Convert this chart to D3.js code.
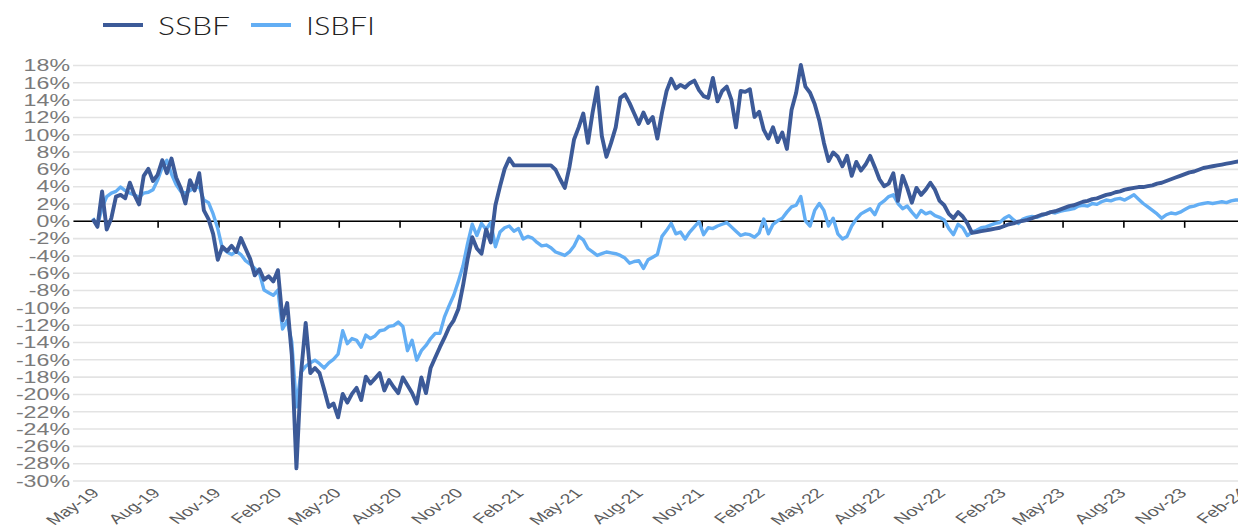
<!DOCTYPE html>
<html>
<head>
<meta charset="utf-8">
<script src="https://cdn.jsdelivr.net/npm/d3@7"></script>
<style>
  body { margin: 0; background: #fff; }
  svg { display: block; font-family: "Liberation Sans", Arial, sans-serif; }
</style>
</head>
<body>
<svg id="viz" width="1238" height="527"></svg>
<script>
// weekly readings, first week starting 2019-04-25
const firstWeek = "2019-04-25";
const seriesNames = ["SSBF", "ISBFI"];
const seriesColors = ["#3c5a98", "#63aef4"];

const ssbf = [
  0.2, -0.7, 3.4, -1.0, 0.3, 2.8, 3.0, 2.6, 4.4, 3.0,
  1.9, 5.2, 6.0, 4.6, 5.3, 7.0, 5.5, 7.2, 5.0, 3.8,
  2.0, 4.7, 3.5, 5.5, 1.2, 0.2, -1.5, -4.5, -3.0, -3.5,
  -2.9, -3.6, -2.0, -3.2, -4.4, -6.3, -5.6, -6.8, -6.4, -7.0,
  -5.7, -11.5, -9.5, -15.5, -28.6, -17.6, -11.8, -17.6, -17.0, -17.6,
  -19.5, -21.5, -21.1, -22.7, -20.0, -21.0, -20.0, -19.3, -20.7, -18.0,
  -18.8, -18.2, -17.6, -19.6, -18.4, -19.2, -19.9, -18.1, -19.0, -19.9,
  -21.1, -18.1, -19.9, -17.0, -15.8, -14.6, -13.5, -12.3, -11.5, -10.2,
  -7.5, -4.4, -1.9, -3.2, -3.8, -1.0, -2.5, 1.8, 4.0, 6.0,
  7.2, 6.4, 6.4, 6.4, 6.4, 6.4, 6.4, 6.4, 6.4, 6.4,
  5.9, 4.8, 3.8, 6.2, 9.4, 10.8, 12.4, 9.0, 12.5, 15.4,
  9.8, 7.4, 9.0, 10.8, 14.2, 14.6, 13.6, 12.4, 11.2, 12.5,
  11.3, 12.0, 9.5, 12.5, 15.0, 16.4, 15.3, 15.7, 15.4, 15.9,
  16.2, 15.1, 14.4, 14.2, 16.5, 13.8, 15.0, 15.5, 14.0, 10.8,
  15.0, 14.9, 15.2, 12.0, 12.6, 10.5, 9.5, 10.8, 9.1, 10.2,
  8.3, 12.8, 14.8, 18.0, 15.5, 14.8, 13.5, 11.6, 9.0, 6.9,
  7.9, 7.4, 6.3, 7.5, 5.2, 6.8, 5.8, 6.5, 7.5, 6.2,
  4.8, 4.0, 4.3, 5.5, 2.3, 5.2, 3.8, 2.1, 3.8, 3.0,
  3.6, 4.4, 3.6, 2.3, 1.8, 0.8, 0.3, 1.0, 0.5, -0.3,
  -1.4, -1.3, -1.2, -1.1, -1.0, -0.9, -0.8, -0.6, -0.4, -0.3,
  -0.1, 0.0, 0.1, 0.3, 0.5, 0.7, 0.8, 1.0, 1.1, 1.3,
  1.5, 1.7, 1.8, 2.0, 2.2, 2.3, 2.5, 2.6, 2.8, 3.0,
  3.1, 3.3, 3.4, 3.6, 3.7, 3.8, 3.9, 3.9, 4.0, 4.1,
  4.3, 4.4, 4.6, 4.8, 5.0, 5.2, 5.4, 5.6, 5.7, 5.9,
  6.1, 6.2, 6.3, 6.4, 6.5, 6.6, 6.7, 6.8, 6.9
];

const isbfi = [
  0.3, -0.5, 1.5, 2.8, 3.2, 3.4, 3.9, 3.5, 3.2, 3.0,
  2.7, 3.2, 3.3, 3.6, 4.7, 6.2, 7.0, 5.4, 4.2, 3.4,
  3.2, 3.5, 3.8, 3.9, 2.4, 2.1, 0.8, -0.9, -3.2, -3.6,
  -3.9, -3.5, -3.9, -4.6, -5.0, -5.5, -6.0, -8.0, -8.3, -8.6,
  -8.0, -12.5, -11.5, -14.0, -21.5, -17.5, -16.8, -16.4, -16.1, -16.5,
  -17.0, -16.4, -16.0, -15.4, -12.7, -14.2, -13.6, -13.8, -14.6, -13.2,
  -13.6, -13.3, -12.7, -12.6, -12.2, -12.1, -11.7, -12.2, -15.0, -13.8,
  -16.1, -15.0, -14.4, -13.6, -13.0, -13.0, -11.1, -9.8, -8.6, -7.0,
  -5.2, -2.6, -0.4, -1.7, -0.3, -1.0, -0.2, -3.0, -1.3, -0.8,
  -0.6, -1.2, -0.9, -2.1, -1.8, -2.0, -2.5, -2.9, -2.8, -3.1,
  -3.6, -3.8, -4.0, -3.6, -2.9, -1.8, -2.2, -3.2, -3.6, -4.0,
  -3.8, -3.6, -3.7, -3.8, -4.0, -4.3, -4.9, -4.7, -4.6, -5.5,
  -4.5, -4.2, -3.9, -1.8, -1.1, -0.3, -1.5, -1.3, -2.1, -1.3,
  -0.7, -0.1, -1.6, -0.8, -0.9, -0.6, -0.4, -0.2, -0.7, -1.2,
  -1.7, -1.5, -1.6, -1.9, -1.4, 0.2, -1.5, -0.4, 0.0, 0.3,
  1.0, 1.6, 1.8, 2.8, 0.0, -0.6, 1.2, 2.0, 1.2, -0.6,
  0.3, -1.5, -2.1, -1.8, -0.6, 0.2, 0.8, 1.1, 1.4, 0.7,
  1.9, 2.3, 2.8, 3.0, 2.0, 1.4, 1.7, 1.0, 0.4, 1.2,
  0.8, 1.0, 0.6, 0.4, 0.1, -0.9, -1.6, -0.4, -0.8, -1.7,
  -1.3, -1.1, -0.8, -0.7, -0.5, -0.3, -0.2, 0.3, 0.6, 0.1,
  -0.3, 0.2, 0.4, 0.5, 0.4, 0.6, 0.8, 1.0, 0.9, 1.1,
  1.2, 1.3, 1.4, 1.7, 1.8, 1.7, 2.0, 1.9, 2.2, 2.4,
  2.3, 2.5, 2.6, 2.4, 2.7, 3.0, 2.5, 2.0, 1.6, 1.2,
  0.8, 0.3, 0.7, 0.9, 0.8, 1.0, 1.3, 1.6, 1.7, 1.9,
  2.0, 2.1, 2.0, 2.1, 2.2, 2.1, 2.3, 2.4, 2.4
];

const xTickDates = [
  "2019-05-01", "2019-08-01", "2019-11-01", "2020-02-01", "2020-05-01",
  "2020-08-01", "2020-11-01", "2021-02-01", "2021-05-01", "2021-08-01",
  "2021-11-01", "2022-02-01", "2022-05-01", "2022-08-01", "2022-11-01",
  "2023-02-01", "2023-05-01", "2023-08-01", "2023-11-01", "2024-02-01"
];
const yTickValues = [-30, -28, -26, -24, -22, -20, -18, -16, -14, -12, -10, -8, -6, -4, -2,
  0, 2, 4, 6, 8, 10, 12, 14, 16, 18];

const parse = d3.timeParse("%Y-%m-%d");
const fmt = d3.timeFormat("%b-%y");
const start = parse(firstWeek);
const dates = ssbf.map((_, i) => d3.timeDay.offset(start, 7 * i));

const svg = d3.select("#viz");
const stretch = 1.45; // source picture is stretched wide

const x = d3.scaleTime()
  .domain([parse("2019-03-26"), parse("2024-02-01")])
  .range([73, 1245]);
const y = d3.scaleLinear().domain([-30, 18]).range([480.5, 65]);

// gridlines + y labels
const yAxis = svg.append("g")
  .attr("transform", "translate(73,0)")
  .call(d3.axisLeft(y)
    .tickValues(yTickValues)
    .tickSize(-(1245 - 73))
    .tickFormat((d) => d + "%"));
yAxis.select(".domain").remove();
yAxis.selectAll(".tick line")
  .attr("stroke", "#e3e3e3")
  .attr("stroke-width", 1.6);
yAxis.selectAll(".tick text")
  .attr("x", 0)
  .attr("dy", "0.36em")
  .attr("transform", `translate(-3,0) scale(${stretch},1)`)
  .attr("fill", "#7a7a7a")
  .attr("font-size", 16);

// zero axis with quarter ticks
const xAxis = svg.append("g")
  .attr("transform", `translate(0,${y(0)})`)
  .call(d3.axisBottom(x)
    .tickValues(xTickDates.map(parse))
    .tickSize(7)
    .tickSizeOuter(0)
    .tickFormat(fmt));
xAxis.select(".domain").attr("stroke", "#000").attr("stroke-width", 1.6);
xAxis.selectAll(".tick line").attr("stroke", "#000").attr("stroke-width", 1.6);
xAxis.selectAll(".tick text")
  .attr("x", 0)
  .attr("y", 0)
  .attr("dy", 0)
  .attr("text-anchor", "end")
  .attr("transform", `translate(3,${494 - y(0)}) scale(${stretch},1) rotate(-45)`)
  .attr("fill", "#5c5c5c")
  .attr("font-size", 13.5);

// lines, ISBFI under SSBF
const line = d3.line()
  .x((d, i) => x(dates[i]))
  .y((d) => y(d));

const drawOrder = [[isbfi, 1, 3.4], [ssbf, 0, 3.9]];
drawOrder.forEach(([values, idx, w]) => {
  svg.append("path")
    .datum(values)
    .attr("fill", "none")
    .attr("stroke", seriesColors[idx])
    .attr("stroke-width", w)
    .attr("stroke-linejoin", "round")
    .attr("d", line);
});

// legend
const legend = svg.append("g").attr("transform", "translate(103,25)");
const legendX = [0, 148];
const legendTextLen = [72, 69];
seriesNames.forEach((name, i) => {
  const g = legend.append("g").attr("transform", `translate(${legendX[i]},0)`);
  g.append("line")
    .attr("x1", 0).attr("x2", 40)
    .attr("stroke", seriesColors[i])
    .attr("stroke-width", 4);
  g.append("text")
    .attr("x", 55)
    .attr("y", 9.5)
    .attr("font-family", "Lato, 'Open Sans', sans-serif")
    .attr("font-weight", 300)
    .attr("font-size", 26)
    .attr("textLength", legendTextLen[i])
    .attr("lengthAdjust", "spacingAndGlyphs")
    .attr("fill", "#222")
    .text(name);
});
</script>
</body>
</html>
